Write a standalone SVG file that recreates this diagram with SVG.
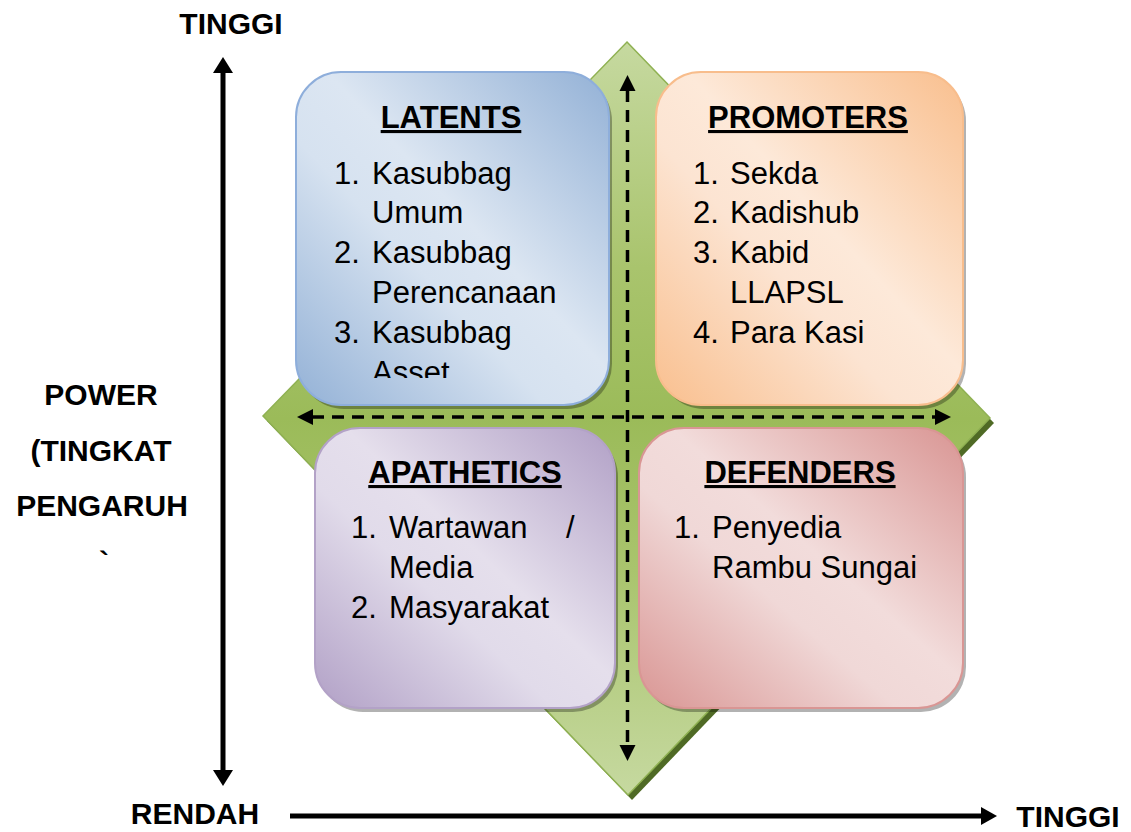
<svg xmlns="http://www.w3.org/2000/svg" width="1131" height="832" viewBox="0 0 1131 832">
<style>
.lbl{font-family:"Liberation Sans",Arial,sans-serif;font-weight:bold;font-size:30px;fill:#000}
.ttl{font-family:"Liberation Sans",Arial,sans-serif;font-weight:bold;font-size:31px;fill:#000;text-decoration:underline}
.itm{font-family:"Liberation Sans",Arial,sans-serif;font-size:31px;fill:#000}
.dash{stroke:#000;stroke-width:3.5;stroke-dasharray:12 8;fill:none}
.axis{stroke:#000;stroke-width:5;fill:none}
.shadow{fill:#000;opacity:0.3}
</style>
<defs>
<linearGradient id="gGreen" x1="0" y1="0" x2="0" y2="1">
<stop offset="0" stop-color="#c6d9a0"/>
<stop offset="0.3" stop-color="#a9c46d"/>
<stop offset="0.5" stop-color="#9bbb59"/>
<stop offset="0.7" stop-color="#a9c46d"/>
<stop offset="1" stop-color="#c6d9a0"/>
</linearGradient>
<linearGradient id="gBlue" x1="1" y1="0" x2="0" y2="1">
<stop offset="0" stop-color="#93b1d6"/>
<stop offset="0.45" stop-color="#dce6f2"/>
<stop offset="0.6" stop-color="#d6e2f0"/>
<stop offset="1" stop-color="#93b1d6"/>
</linearGradient>
<linearGradient id="gOrange" x1="1" y1="0" x2="0" y2="1">
<stop offset="0" stop-color="#f9bf8e"/>
<stop offset="0.45" stop-color="#fde9d9"/>
<stop offset="0.6" stop-color="#fce4d2"/>
<stop offset="1" stop-color="#f9bf8e"/>
</linearGradient>
<linearGradient id="gPurple" x1="1" y1="0" x2="0" y2="1">
<stop offset="0" stop-color="#b1a0c6"/>
<stop offset="0.45" stop-color="#e5dfec"/>
<stop offset="0.6" stop-color="#e1dbea"/>
<stop offset="1" stop-color="#b1a0c6"/>
</linearGradient>
<linearGradient id="gRed" x1="1" y1="0" x2="0" y2="1">
<stop offset="0" stop-color="#d99593"/>
<stop offset="0.45" stop-color="#f2dcdb"/>
<stop offset="0.6" stop-color="#f0d8d7"/>
<stop offset="1" stop-color="#d99593"/>
</linearGradient>
<clipPath id="clipLat"><rect x="296" y="72" width="313" height="306"/></clipPath>
</defs>

<g id="background-diamond">
<polygon points="631,47 994,423 632,800 267,421" fill="#4f6a25"/>
<polygon points="627,42 990,418 628,795 263,416" fill="url(#gGreen)" stroke="#8fb152" stroke-width="1.5"/>
</g>

<g id="latents">
<rect x="299" y="76" width="313" height="333" rx="45" class="shadow"/>
<rect x="296" y="72" width="313" height="333" rx="45" fill="url(#gBlue)" stroke="#8eaedb" stroke-width="2"/>
<text x="451" y="128" text-anchor="middle" class="ttl">LATENTS</text>
<g clip-path="url(#clipLat)">
<text class="itm" x="334" y="184">1.</text><text class="itm" x="372" y="184">Kasubbag</text>
<text class="itm" x="372" y="223">Umum</text>
<text class="itm" x="334" y="263">2.</text><text class="itm" x="372" y="263">Kasubbag</text>
<text class="itm" x="372" y="303">Perencanaan</text>
<text class="itm" x="334" y="343">3.</text><text class="itm" x="372" y="343">Kasubbag</text>
<text class="itm" x="372" y="383">Asset</text>
</g>
</g>

<g id="promoters">
<rect x="659" y="76" width="307" height="333" rx="45" class="shadow"/>
<rect x="656" y="72" width="307" height="333" rx="45" fill="url(#gOrange)" stroke="#f8bd8c" stroke-width="2"/>
<text x="808" y="128" text-anchor="middle" class="ttl">PROMOTERS</text>
<text class="itm" x="693" y="184">1.</text><text class="itm" x="730" y="184">Sekda</text>
<text class="itm" x="693" y="223">2.</text><text class="itm" x="730" y="223">Kadishub</text>
<text class="itm" x="693" y="263">3.</text><text class="itm" x="730" y="263">Kabid</text>
<text class="itm" x="730" y="303">LLAPSL</text>
<text class="itm" x="693" y="343">4.</text><text class="itm" x="730" y="343">Para Kasi</text>
</g>

<g id="apathetics">
<rect x="318" y="432" width="300" height="280" rx="45" class="shadow"/>
<rect x="315" y="428" width="300" height="280" rx="45" fill="url(#gPurple)" stroke="#b3a2c7" stroke-width="2"/>
<text x="465" y="483" text-anchor="middle" class="ttl">APATHETICS</text>
<text class="itm" x="351" y="538">1.</text><text class="itm" x="389" y="538">Wartawan</text><text class="itm" x="566" y="538">/</text>
<text class="itm" x="389" y="578">Media</text>
<text class="itm" x="351" y="618">2.</text><text class="itm" x="389" y="618">Masyarakat</text>
</g>

<g id="defenders">
<rect x="642" y="432" width="324" height="280" rx="45" class="shadow"/>
<rect x="639" y="428" width="324" height="280" rx="45" fill="url(#gRed)" stroke="#d99694" stroke-width="2"/>
<text x="800" y="483" text-anchor="middle" class="ttl">DEFENDERS</text>
<text class="itm" x="674" y="538">1.</text><text class="itm" x="712" y="538">Penyedia</text>
<text class="itm" x="712" y="578">Rambu Sungai</text>
</g>

<g id="connectors">
<line x1="627.5" y1="90" x2="627.5" y2="746" class="dash"/>
<polygon points="627.5,75 619.5,91 635.5,91" fill="#000"/>
<polygon points="627.5,761 619.5,745 635.5,745" fill="#000"/>
<line x1="312" y1="417" x2="936" y2="417" class="dash"/>
<polygon points="297,417 313,409 313,425" fill="#000"/>
<polygon points="951,417 935,409 935,425" fill="#000"/>
<line x1="223" y1="72" x2="223" y2="772" class="axis"/>
<polygon points="223,57 213,73 233,73" fill="#000"/>
<polygon points="223,786 213,770 233,770" fill="#000"/>
<line x1="290" y1="816" x2="982" y2="816" class="axis"/>
<polygon points="997,816 981,807 981,825" fill="#000"/>
</g>

<g id="axis-labels">
<text x="231" y="34" text-anchor="middle" class="lbl">TINGGI</text>
<text x="101" y="405" text-anchor="middle" class="lbl">POWER</text>
<text x="101" y="461" text-anchor="middle" class="lbl">(TINGKAT</text>
<text x="102" y="516" text-anchor="middle" class="lbl">PENGARUH</text>
<text x="104" y="572" text-anchor="middle" class="lbl">`</text>
<text x="195" y="824" text-anchor="middle" class="lbl">RENDAH</text>
<text x="1068" y="827" text-anchor="middle" class="lbl">TINGGI</text>
</g>
</svg>
